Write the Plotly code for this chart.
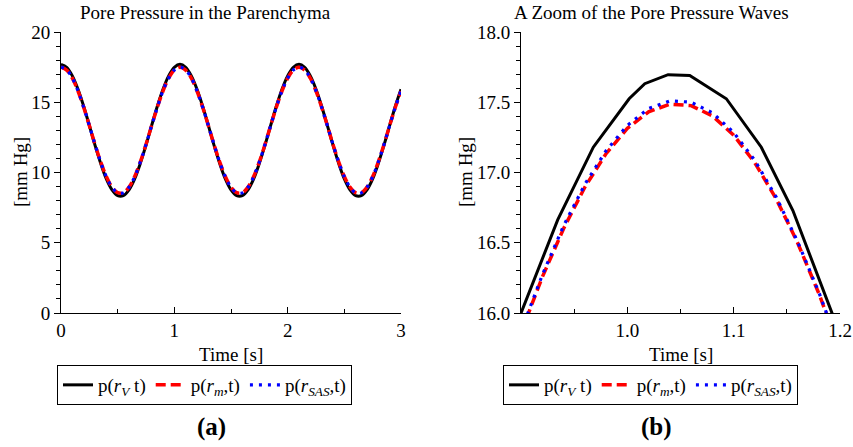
import plotly.graph_objects as go

# ---------------- data ----------------
time_s = [0.00, 0.05, 0.10, 0.15, 0.20, 0.25, 0.30, 0.35, 0.40, 0.45,
          0.50, 0.55, 0.60, 0.65, 0.70, 0.75, 0.80, 0.85, 0.90, 0.95,
          1.00, 1.05, 1.10, 1.15, 1.20, 1.25, 1.30, 1.35, 1.40, 1.45,
          1.50, 1.55, 1.60, 1.65, 1.70, 1.75, 1.80, 1.85, 1.90, 1.95,
          2.00, 2.05, 2.10, 2.15, 2.20, 2.25, 2.30, 2.35, 2.40, 2.45,
          2.50, 2.55, 2.60, 2.65, 2.70, 2.75, 2.80, 2.85, 2.90, 2.95,
          3.00]

p_rV = [17.70, 17.49, 16.88, 15.93, 14.72, 13.35, 11.95, 10.65, 9.55, 8.77,
        8.35, 8.35, 8.77, 9.55, 10.65, 11.95, 13.35, 14.72, 15.93, 16.88,
        17.49, 17.70, 17.49, 16.88, 15.93, 14.72, 13.35, 11.95, 10.65, 9.55,
        8.77, 8.35, 8.35, 8.77, 9.55, 10.65, 11.95, 13.35, 14.72, 15.93,
        16.88, 17.49, 17.70, 17.49, 16.88, 15.93, 14.72, 13.35, 11.95, 10.65,
        9.55, 8.77, 8.35, 8.35, 8.77, 9.55, 10.65, 11.95, 13.35, 14.72,
        15.93]

p_rm = [17.49, 17.29, 16.71, 15.80, 14.64, 13.34, 12.00, 10.76, 9.71, 8.96,
        8.56, 8.56, 8.96, 9.71, 10.76, 12.00, 13.34, 14.64, 15.80, 16.71,
        17.29, 17.49, 17.29, 16.71, 15.80, 14.64, 13.34, 12.00, 10.76, 9.71,
        8.96, 8.56, 8.56, 8.96, 9.71, 10.76, 12.00, 13.34, 14.64, 15.80,
        16.71, 17.29, 17.49, 17.29, 16.71, 15.80, 14.64, 13.34, 12.00, 10.76,
        9.71, 8.96, 8.56, 8.56, 8.96, 9.71, 10.76, 12.00, 13.34, 14.64,
        15.80]

p_rSAS = [17.50, 17.30, 16.72, 15.81, 14.64, 13.34, 12.00, 10.75, 9.70, 8.95,
          8.55, 8.55, 8.95, 9.70, 10.75, 12.00, 13.34, 14.64, 15.81, 16.72,
          17.30, 17.50, 17.30, 16.72, 15.81, 14.64, 13.34, 12.00, 10.75, 9.70,
          8.95, 8.55, 8.55, 8.95, 9.70, 10.75, 12.00, 13.34, 14.64, 15.81,
          16.72, 17.30, 17.50, 17.30, 16.72, 15.81, 14.64, 13.34, 12.00, 10.75,
          9.70, 8.95, 8.55, 8.55, 8.95, 9.70, 10.75, 12.00, 13.34, 14.64,
          15.81]

# zoomed window (0.9 s .. 1.2 s)
zoom_time_rV = [0.899, 0.9345, 0.968, 1.0017, 1.0164, 1.0383, 1.0587,
                1.0931, 1.126, 1.1557, 1.1950]
zoom_p_rV = [15.98, 16.663, 17.180, 17.525, 17.632, 17.696, 17.691,
             17.525, 17.180, 16.729, 15.95]

zoom_time = [0.90, 0.92, 0.94, 0.96, 0.98, 1.00, 1.02, 1.04,
             1.06, 1.08, 1.10, 1.12, 1.14, 1.16, 1.18, 1.20]
zoom_p_rm = [15.86, 16.255, 16.60, 16.895, 17.134, 17.314, 17.432, 17.486,
             17.476, 17.403, 17.266, 17.068, 16.812, 16.502, 16.141, 15.735]
zoom_p_rSAS = [15.87, 16.27, 16.62, 16.915, 17.155, 17.335, 17.455, 17.51,
               17.50, 17.425, 17.285, 17.085, 16.825, 16.51, 16.15, 15.74]

series_names = ["p(<i>r</i><sub><i>V</i></sub> t)",
                "p(<i>r</i><sub><i>m</i></sub>,t)",
                "p(<i>r</i><sub><i>SAS</i></sub>,t)"]

left_ticks = [0, 5, 10, 15, 20]
bottom_ticks = [0, 1, 2, 3]
zoom_y_ticks = [16.0, 16.5, 17.0, 17.5, 18.0]
zoom_x_ticks = [1.0, 1.1, 1.2]

# ---------------- figure ----------------
W, H = 853, 447
FONT = "Liberation Serif, Times New Roman, serif"

def px_x(p):
    return p / W

def px_y(p):
    return 1 - p / H

styles = [dict(color="black", width=3, dash="solid"),
          dict(color="red", width=3.5, dash="10px,5px"),
          dict(color="blue", width=3.2, dash="3px,6px")]

fig = go.Figure()

left_sets = [p_rV, p_rm, p_rSAS]
for name, ys, st in zip(series_names, left_sets, styles):
    fig.add_trace(go.Scatter(x=time_s, y=ys, mode="lines", name=name,
                             line=dict(shape="spline", **st),
                             xaxis="x", yaxis="y", legend="legend"))

right_sets = [(zoom_time_rV, zoom_p_rV), (zoom_time, zoom_p_rm), (zoom_time, zoom_p_rSAS)]
for name, (xs, ys), st in zip(series_names, right_sets, styles):
    fig.add_trace(go.Scatter(x=xs, y=ys, mode="lines", name=name,
                             line=st, xaxis="x2", yaxis="y2", legend="legend2"))

tickfont = dict(family=FONT, size=19, color="black")
common_axis = dict(showline=True, linecolor="black", linewidth=1, showgrid=False,
                   zeroline=False, tickcolor="black", tickfont=tickfont,
                   automargin=False, ticklen=6, tickwidth=1)

y_dom = [px_y(313), px_y(32)]

fig.update_layout(
    width=W, height=H,
    margin=dict(l=0, r=0, t=0, b=0),
    paper_bgcolor="white", plot_bgcolor="white",
    font=dict(family=FONT, size=18, color="black"),
    xaxis=dict(domain=[px_x(61), px_x(401)], range=[0, 3], anchor="y",
               tickvals=bottom_ticks, ticks="inside",
               minor=dict(tickvals=[0.5, 1.5, 2.5], ticks="inside", ticklen=4,
                          tickcolor="black"),
               **common_axis),
    yaxis=dict(domain=y_dom, range=[0, 20], anchor="x",
               tickvals=left_ticks, ticks="outside",
               minor=dict(dtick=1, ticks="outside", ticklen=4, tickcolor="black"),
               **common_axis),
    xaxis2=dict(domain=[px_x(521), px_x(840)], range=[0.9, 1.2], anchor="y2",
                tickvals=zoom_x_ticks, tickformat=".1f", ticks="inside",
                minor=dict(tickvals=[0.95, 1.05, 1.15], ticks="inside", ticklen=4,
                           tickcolor="black"),
                **common_axis),
    yaxis2=dict(domain=y_dom, range=[16, 18], anchor="x2",
                tickvals=zoom_y_ticks, tickformat=".1f", ticks="outside",
                minor=dict(dtick=0.1, ticks="outside", ticklen=4, tickcolor="black"),
                **common_axis),
    legend=dict(orientation="h", x=px_x(57), y=px_y(365), xanchor="left",
                yanchor="top", bordercolor="black", borderwidth=1,
                bgcolor="white", font=dict(family=FONT, size=19),
                itemwidth=30, tracegroupgap=0),
    legend2=dict(orientation="h", x=px_x(503), y=px_y(365), xanchor="left",
                 yanchor="top", bordercolor="black", borderwidth=1,
                 bgcolor="white", font=dict(family=FONT, size=19),
                 itemwidth=30, tracegroupgap=0),
    showlegend=True,
)

annots = [
    ("Pore Pressure in the Parenchyma", 205, 13, 0, 19),
    ("A Zoom of the Pore Pressure Waves", 651, 13, 0, 19),
    ("Time [s]", 231, 354, 0, 19),
    ("Time [s]", 681, 354, 0, 19),
    ("[mm Hg]", 20, 172, -90, 19),
    ("[mm Hg]", 465, 172, -90, 19),
    ("<b>(a)</b>", 211, 427, 0, 25),
    ("<b>(b)</b>", 656, 427, 0, 25),
]
for text, ax_, ay_, ang, size in annots:
    fig.add_annotation(text=text, x=px_x(ax_), y=px_y(ay_), xref="paper", yref="paper",
                       xanchor="center", yanchor="middle", showarrow=False,
                       textangle=ang,
                       font=dict(family=FONT, size=size, color="black"))

fig.write_html("out.html")
